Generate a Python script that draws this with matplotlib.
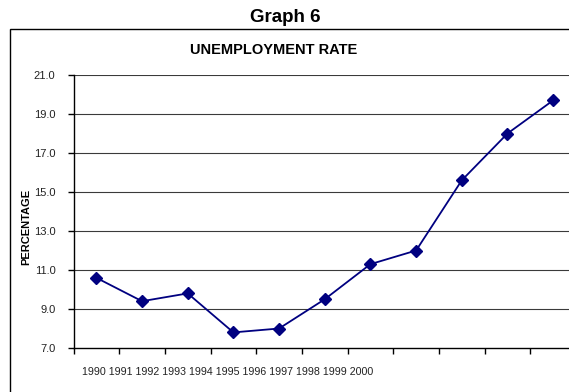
import numpy as np
import matplotlib
matplotlib.use("Agg")
import matplotlib.pyplot as plt
from matplotlib.patches import Rectangle

# -------------------------------
# DATA
# -------------------------------
years = ["1990", "1991", "1992", "1993", "1994", "1995",
         "1996", "1997", "1998", "1999", "2000"]
rate = [10.6, 9.4, 9.8, 7.8, 8.0, 9.5, 11.3, 12.0, 15.6, 18.0, 19.7]
y_ticks = [7.0, 9.0, 11.0, 13.0, 15.0, 17.0, 19.0, 21.0]

plt.rcParams["font.family"] = ["Liberation Sans", "DejaVu Sans"]

W, H = 569, 392
fig = plt.figure(figsize=(W / 100, H / 100), dpi=100)

# outer chart box (runs off right and bottom edge like the original)
box = Rectangle((9.5 / W, -0.05), 1.1, 1 - 29 / H + 0.05,
                transform=fig.transFigure, fill=False,
                edgecolor="black", linewidth=1.0, clip_on=False)
fig.patches.append(box)

# plot area: extends a little past the right edge of the image
left, right = 73.5 / W, 576 / W
bottom, top = 1 - 348 / H, 1 - 75 / H
ax = fig.add_axes([left, bottom, right - left, top - bottom])

n = len(years)
xpos = np.arange(n) + 0.5
ax.plot(xpos, rate, color="#000080", linewidth=1.3, marker="D",
        markersize=6, markerfacecolor="#000080", markeredgecolor="#000080",
        zorder=3)

ax.set_xlim(0, n)
ax.set_ylim(7, 21)
ax.set_yticks(y_ticks)
ax.set_yticklabels([f"{v:.1f}" for v in y_ticks], fontsize=8, color="#222222")
ax.set_xticks(np.arange(n + 1))
ax.set_xticklabels([])

for v in y_ticks[1:]:
    ax.axhline(v, color="#3a3a3a", linewidth=0.8, zorder=1)

for s in ["top", "right"]:
    ax.spines[s].set_visible(False)
ax.spines["left"].set_linewidth(1.0)
ax.spines["bottom"].set_linewidth(1.0)
ax.tick_params(axis="both", direction="out", length=4, width=1.0, color="black")
ax.tick_params(axis="y", pad=9)

# year labels all crammed at the left, as in the original
ax.text(82 / W, 1 - 372 / H, " ".join(years), transform=fig.transFigure,
        fontsize=7.7, color="#222222", ha="left", va="center")

fig.text(285 / W, 1 - 17 / H, "Graph 6", fontsize=13.5, fontweight="bold",
         ha="center", va="center")
fig.text(274 / W, 1 - 50 / H, "UNEMPLOYMENT RATE", fontsize=10.5,
         fontweight="bold", ha="center", va="center")
fig.text(26.5 / W, 1 - 227 / H, "PERCENTAGE", fontsize=8, fontweight="bold",
         rotation=90, ha="center", va="center")

fig.savefig("out.png", dpi=100)
